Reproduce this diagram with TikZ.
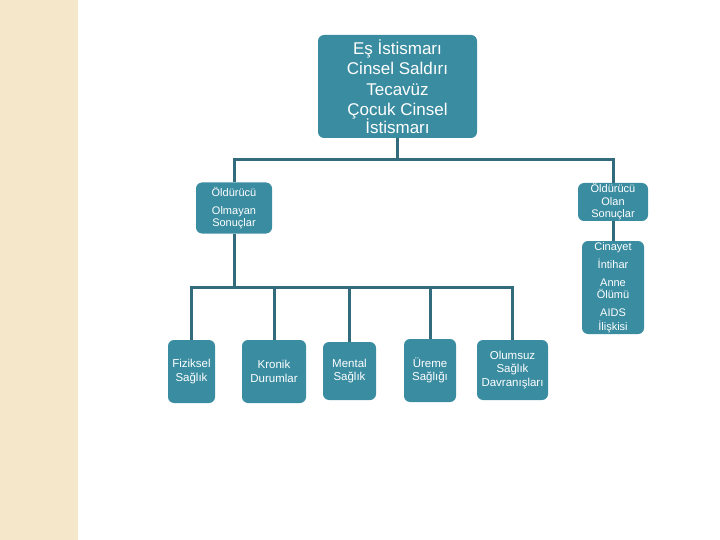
\documentclass[tikz,border=0pt]{standalone}
\usepackage{fontspec}
\setmainfont{Liberation Sans}
\usepackage{xcolor}
\usetikzlibrary{positioning,calc}

\definecolor{boxteal}{RGB}{58,140,161}
\definecolor{linkteal}{RGB}{50,108,124}
\definecolor{bandbg}{RGB}{244,231,202}

\begin{document}
\begin{tikzpicture}[
    x=1pt, y=-1pt,
    bb/.style={
        rectangle,
        rounded corners=6pt,
        fill=boxteal,
        text=white,
        inner sep=0pt,
        align=center
    },
    bigtxt/.style={
        font=\fontsize{17}{20.5}\selectfont
    },
    smalltxt/.style={
        font=\fontsize{11}{12}\selectfont
    },
    leaftxt/.style={
        font=\fontsize{11.5}{13.5}\selectfont
    },
    link/.style={
        line width=3pt,
        draw=linkteal
    }
]

    % ====== page frame and left band ======
    \useasboundingbox (0,0) rectangle (720,540);
    \fill[bandbg] (0,0) rectangle (78,540);

    % ====== top node ======
    \node[bb, bigtxt, minimum width=159pt, minimum height=103pt] (abuse) at (397.5,86.5)
        {Eş İstismarı\\Cinsel Saldırı\\Tecavüz\\Çocuk Cinsel\\[-3pt]İstismarı};

    % ====== second level: outcomes ======
    \node[bb, smalltxt, minimum width=76pt, minimum height=51pt] (nonfatal) at (234,208)
        {Öldürücü\\[6pt]Olmayan\\Sonuçlar};
    \node[bb, smalltxt, minimum width=70pt, minimum height=38pt] (fatal) at (613,202)
        {Öldürücü\\[1pt]Olan\\Sonuçlar};

    % fatal outcomes list
    \node[bb, smalltxt, minimum width=62pt, minimum height=93pt] (deaths) at (613,287.5)
        {Cinayet\\[6pt]İntihar\\[6pt]Anne\\Ölümü\\[6pt]AIDS\\[2pt]İlişkisi};

    % ====== third level: non-fatal outcomes ======
    \node[bb, leaftxt, minimum width=47pt, minimum height=63pt] (physical) at (191.5,371.5) {Fiziksel\\Sağlık};
    \node[bb, leaftxt, minimum width=64pt, minimum height=63pt] (chronic) at (274,371.5) {Kronik\\Durumlar};
    \node[bb, leaftxt, minimum width=53pt, minimum height=58pt] (mental) at (349.5,371) {Mental\\Sağlık};
    \node[bb, leaftxt, minimum width=52pt, minimum height=63pt] (reprod) at (430,370.5) {Üreme\\Sağlığı};
    \node[bb, leaftxt, minimum width=71pt, minimum height=60pt] (behav) at (512.5,370) {Olumsuz\\Sağlık\\Davranışları};

    % ====== connectors ======
    \coordinate (split_top) at (397.5,160);
    \draw[link] (abuse.south) -- (split_top);
    \draw[link] (split_top) -| (nonfatal.north);
    \draw[link] (split_top) -| (fatal.north);
    \draw[link] (fatal.south) -- (deaths.north);

    \coordinate (split_low) at (234,287);
    \draw[link] (nonfatal.south) -- (split_low);
    \foreach \leaf in {physical,chronic,mental,reprod,behav}
        \draw[link] (split_low) -| (\leaf.north);

\end{tikzpicture}
\end{document}
